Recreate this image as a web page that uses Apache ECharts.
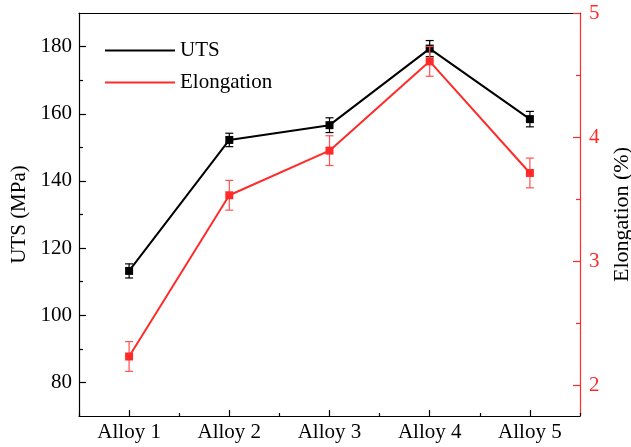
<!DOCTYPE html>
<html>
<head>
<meta charset="utf-8">
<script src="https://cdn.jsdelivr.net/npm/echarts@6/dist/echarts.min.js"></script>
<style>
  html, body { margin: 0; padding: 0; background: #fff; }
  #chart { width: 631px; height: 447px; }
</style>
</head>
<body>
<div id="chart"></div>
<script>
// 合金类别
const categories = ['Alloy 1', 'Alloy 2', 'Alloy 3', 'Alloy 4', 'Alloy 5']
// 抗拉强度 (MPa) 及误差
const utsValues = [113.2, 152.2, 156.6, 179.4, 158.4]
const utsErrors = [2.1, 2.0, 2.2, 2.4, 2.3]
// 延伸率 (%) 及误差
const elongValues = [2.23, 3.53, 3.89, 4.61, 3.71]
const elongErrors = [0.12, 0.12, 0.12, 0.12, 0.12]
// 刻度
const utsMajorTicks = [80, 100, 120, 140, 160, 180]
const utsMinorTicks = [90, 110, 130, 150, 170]
const elongMajorTicks = [2, 3, 4, 5]
const elongMinorTicks = [2.5, 3.5, 4.5]

const FONT = 'Liberation Serif'
const RED = '#ff2b2b'

// 误差线数据 [index, low, high]
const errData = (vals, errs) => vals.map((v, i) => [i, v - errs[i], v + errs[i]])

const errorBar = (color) => (params, api) => {
  const lo = api.coord([api.value(0), api.value(1)])
  const hi = api.coord([api.value(0), api.value(2)])
  const w = 4
  const style = { stroke: color, lineWidth: 1.2 }
  return {
    type: 'group',
    children: [
      { type: 'line', shape: { x1: lo[0], y1: lo[1], x2: hi[0], y2: hi[1] }, style },
      { type: 'line', shape: { x1: lo[0] - w, y1: lo[1], x2: lo[0] + w, y2: lo[1] }, style },
      { type: 'line', shape: { x1: hi[0] - w, y1: hi[1], x2: hi[0] + w, y2: hi[1] }, style }
    ]
  }
}

const chart = echarts.init(document.getElementById('chart'))

chart.setOption({
  animation: false,
  textStyle: { fontFamily: FONT },
  grid: {
    left: 79, right: 51, top: 13, bottom: 31,
    outerBoundsMode: 'none',
    containLabel: false
  },
  legend: {
    orient: 'vertical',
    left: 100,
    top: 35,
    icon: 'rect',
    itemWidth: 70,
    itemHeight: 2,
    itemGap: 11,
    data: ['UTS', 'Elongation'],
    textStyle: { fontFamily: FONT, fontSize: 21, color: '#000', padding: [0, 0, 0, 0] }
  },
  xAxis: [
    {
      type: 'category',
      data: categories,
      axisLine: { lineStyle: { color: '#000', width: 1.2 } },
      axisTick: { show: true, inside: true, alignWithLabel: true, interval: 0, length: 6, lineStyle: { color: '#000', width: 1.2 } },
      axisLabel: { fontFamily: FONT, fontSize: 21, color: '#000', margin: 6, interval: 0 },
      splitLine: { show: false }
    },
    {
      type: 'category',
      data: categories,
      position: 'bottom',
      axisLine: { show: false },
      axisTick: { show: true, inside: true, interval: 0, length: 3, lineStyle: { color: '#000', width: 1.2 } },
      axisLabel: { show: false },
      splitLine: { show: false }
    },
    {
      type: 'category',
      data: categories,
      position: 'top',
      axisLine: { show: true, lineStyle: { color: '#000', width: 1.2 } },
      axisTick: { show: false },
      axisLabel: { show: false },
      splitLine: { show: false }
    }
  ],
  yAxis: [
    {
      type: 'value',
      min: 70,
      max: 190,
      position: 'left',
      name: 'UTS (MPa)',
      nameLocation: 'middle',
      nameGap: 45,
      nameTextStyle: { fontFamily: FONT, fontSize: 21, color: '#000' },
      axisLine: { show: true, lineStyle: { color: '#000', width: 1.2 } },
      axisTick: { show: true, inside: true, length: 7, customValues: utsMajorTicks, lineStyle: { color: '#000', width: 1.2 } },
      axisLabel: { fontFamily: FONT, fontSize: 21, color: '#000', margin: 7, customValues: utsMajorTicks },
      splitLine: { show: false }
    },
    {
      type: 'value',
      min: 1.75,
      max: 5,
      position: 'right',
      name: 'Elongation (%)',
      nameLocation: 'middle',
      nameGap: 31,
      nameTextStyle: { fontFamily: FONT, fontSize: 22, color: '#000' },
      axisLine: { show: true, lineStyle: { color: RED, width: 1.2 } },
      axisTick: { show: true, inside: true, length: 7, customValues: elongMajorTicks, lineStyle: { color: RED, width: 1.2 } },
      axisLabel: { fontFamily: FONT, fontSize: 21, color: RED, margin: 9, customValues: elongMajorTicks },
      splitLine: { show: false }
    },
    {
      type: 'value',
      min: 70,
      max: 190,
      position: 'left',
      axisLine: { show: false },
      axisTick: { show: true, inside: true, length: 4, customValues: utsMinorTicks, lineStyle: { color: '#000', width: 1.2 } },
      axisLabel: { show: false },
      splitLine: { show: false }
    },
    {
      type: 'value',
      min: 1.75,
      max: 5,
      position: 'right',
      axisLine: { show: false },
      axisTick: { show: true, inside: true, length: 4, customValues: elongMinorTicks, lineStyle: { color: RED, width: 1.2 } },
      axisLabel: { show: false },
      splitLine: { show: false }
    }
  ],
  series: [
    {
      name: 'UTS',
      type: 'line',
      yAxisIndex: 0,
      data: utsValues,
      symbol: 'rect',
      symbolSize: 8,
      lineStyle: { color: '#000', width: 2 },
      itemStyle: { color: '#000' },
      z: 3
    },
    {
      name: 'UTS err',
      type: 'custom',
      yAxisIndex: 0,
      data: errData(utsValues, utsErrors),
      encode: { x: 0, y: [1, 2] },
      renderItem: errorBar('#000'),
      z: 3
    },
    {
      name: 'Elongation',
      type: 'line',
      yAxisIndex: 1,
      data: elongValues,
      symbol: 'rect',
      symbolSize: 8,
      lineStyle: { color: RED, width: 2 },
      itemStyle: { color: RED },
      z: 4
    },
    {
      name: 'Elongation err',
      type: 'custom',
      yAxisIndex: 1,
      data: errData(elongValues, elongErrors),
      encode: { x: 0, y: [1, 2] },
      renderItem: errorBar('#ff5050'),
      z: 4
    }
  ]
})
</script>
</body>
</html>
